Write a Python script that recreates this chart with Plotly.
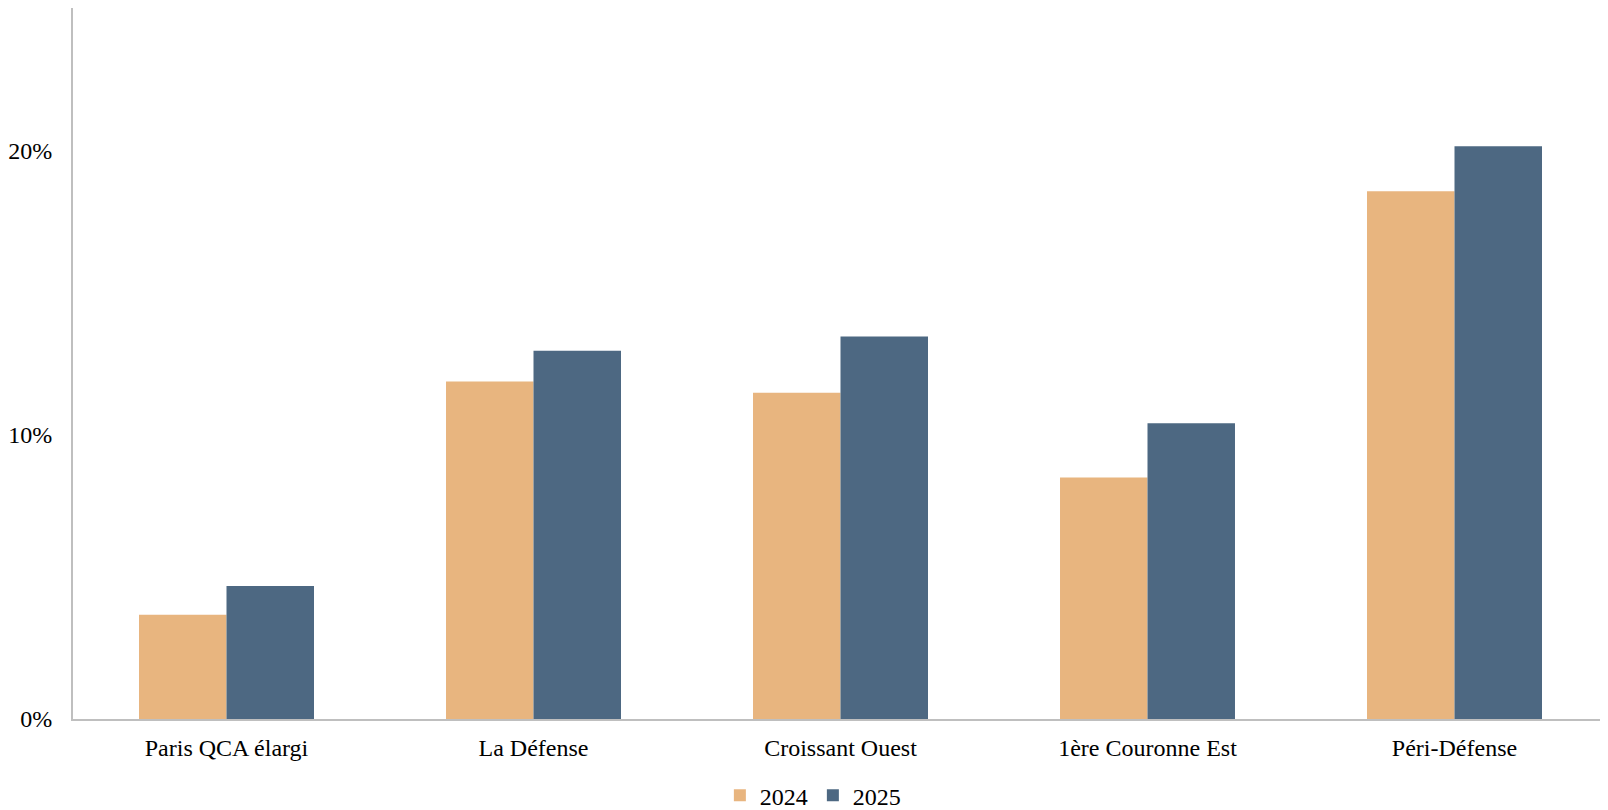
import plotly.graph_objects as go

categories = ["Paris QCA élargi", "La Défense", "Croissant Ouest", "1ère Couronne Est", "Péri-Défense"]
values_2024 = [0.0367, 0.1187, 0.1147, 0.0849, 0.1856]
values_2025 = [0.0468, 0.1295, 0.1345, 0.1040, 0.2014]
series_names = ["2024", "2025"]
y_tick_vals = [0, 0.10, 0.20]
y_tick_text = ["0%", "10%", "20%"]

fig = go.Figure()
fig.add_trace(go.Bar(x=categories, y=values_2024, name=series_names[0],
                     marker=dict(color="#E8B57F", line=dict(width=0))))
fig.add_trace(go.Bar(x=categories, y=values_2025, name=series_names[1],
                     marker=dict(color="#4D6882", line=dict(width=0))))

fig.update_layout(
    width=1600, height=802,
    paper_bgcolor="white", plot_bgcolor="white",
    margin=dict(l=60, r=0, t=0, b=91),
    barmode="group", bargap=0.43, bargroupgap=0,
    font=dict(family="Liberation Serif", size=24, color="#000000"),
    showlegend=True,
    legend=dict(orientation="h", xref="paper", x=0.482, xanchor="center",
                yref="container", y=0.018, yanchor="middle",
                font=dict(size=24), itemwidth=30, traceorder="normal"),
)
fig.update_xaxes(showline=True, linecolor="#BFBFBF", linewidth=2, showgrid=False,
                 ticks="", ticklabelstandoff=6, tickfont=dict(size=24))
fig.update_yaxes(range=[0, 0.25], tickvals=y_tick_vals, ticktext=y_tick_text,
                 showline=True, linecolor="#BFBFBF", linewidth=2, showgrid=False,
                 zeroline=False, ticks="", ticklabelstandoff=14, tickfont=dict(size=24))

fig.write_html("out.html")
